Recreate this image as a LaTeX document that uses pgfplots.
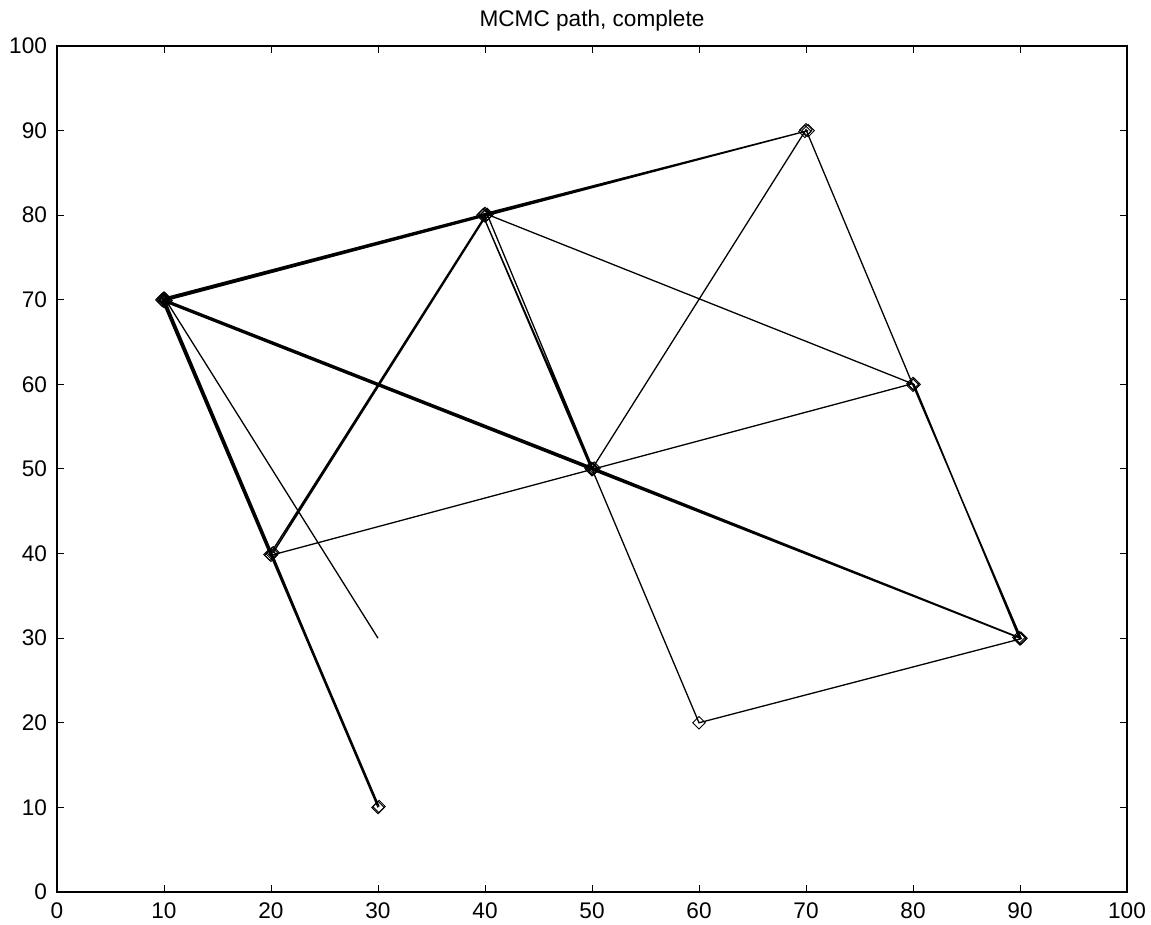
\documentclass[border=0pt]{standalone}
\usepackage{pgfplots}
\pgfplotsset{compat=1.18}
\usepackage{fontspec}
\setmainfont{Liberation Sans}

% Sampled path of the chain; repeated moves sit a little apart so that
% edges visited many times show up heavier.
\pgfplotstableread{
x y
30.0 30.0
10.1 70.1
40.1 80.0
9.9 69.9
70.2 90.0
39.9 80.1
10.0 70.2
20.1 40.0
30.0 10.0
9.8 70.0
19.9 39.9
40.0 79.9
20.2 40.1
40.2 80.1
50.1 50.0
39.8 80.0
49.9 50.1
10.2 69.9
90.0 30.0
10.0 69.8
50.0 49.9
89.9 30.1
80.1 60.0
40.0 80.2
69.9 89.9
10.1 69.9
20.0 39.8
80.0 60.1
90.0 29.9
60.0 20.0
50.0 50.0
70.0 90.1
80.0 59.9
90.1 30.0
50.2 50.1
9.9 70.1
30.1 10.1
}\mcmcpath

\begin{document}
\begin{tikzpicture}
\begin{axis}[
  scale only axis,
  width=535pt, height=423pt,
  xmin=0, xmax=100, ymin=0, ymax=100,
  xtick={0,10,...,100}, ytick={0,10,...,100},
  tick align=inside,
  major tick length=3.5pt,
  axis line style={line width=0.55pt},
  every tick/.style={black, line width=0.5pt},
  tick label style={font=\fontsize{11.3}{13}\selectfont},
  /pgf/number format/assume math mode=true,
  xticklabel style={yshift=-2pt},
  yticklabel style={xshift=-1.5pt},
  title={MCMC path, complete},
  title style={font=\fontsize{11.3}{13}\selectfont, at={(0.5,1)}, anchor=base, yshift=3.5pt},
]
\addplot[black, line width=0.65pt, mark=square, mark size=2.2pt,
  mark indices={2,...,37},
  mark options={rotate=45, line width=0.45pt, fill=none, solid}]
  table[x=x, y=y] {\mcmcpath};
\coordinate (sw) at (rel axis cs:0,0);
\coordinate (ne) at (rel axis cs:1,1);
\end{axis}
\pgfresetboundingbox
\path ([xshift=-28.5pt,yshift=-16.5pt]sw) rectangle ([xshift=12pt,yshift=23pt]ne);
\end{tikzpicture}
\end{document}
